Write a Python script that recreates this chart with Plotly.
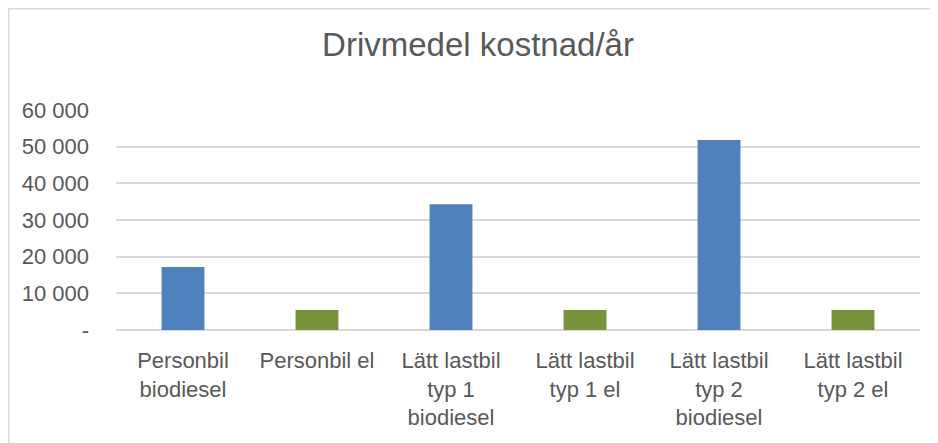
import plotly.graph_objects as go

categories = [
    "Personbil<br>biodiesel",
    "Personbil el",
    "Lätt lastbil<br>typ 1<br>biodiesel",
    "Lätt lastbil<br>typ 1 el",
    "Lätt lastbil<br>typ 2<br>biodiesel",
    "Lätt lastbil<br>typ 2 el",
]
values = [17200, 5450, 34300, 5450, 51800, 5450]
tick_vals = [0, 10000, 20000, 30000, 40000, 50000, 60000]
tick_text = ["-", "10 000", "20 000", "30 000", "40 000", "50 000", "60 000"]

BLUE = "#4F81BD"
GREEN = "#77933C"
bar_colors = [BLUE, GREEN, BLUE, GREEN, BLUE, GREEN]
TXT = "#595959"
GRID = "#D9D9D9"
FONT = "Liberation Sans, Arial, sans-serif"

fig = go.Figure(
    go.Bar(x=categories, y=values, marker=dict(color=bar_colors, line=dict(width=0)))
)

# page has an 8px body margin; figure occupies page x 8..938, y 8..443
W, H = 930, 435
ml, mr, mt, mb = 108, 18, 102, 113
pw = W - ml - mr
ph = H - mt - mb

fig.update_layout(
    width=W,
    height=H,
    margin=dict(l=ml, r=mr, t=mt, b=mb, pad=0),
    paper_bgcolor="white",
    plot_bgcolor="white",
    bargap=0.68,
    showlegend=False,
    font=dict(family=FONT, color=TXT, size=22),
    title=dict(
        text="Drivmedel kostnad/år",
        x=470 / W,
        xanchor="center",
        y=1 - 36 / H,
        yanchor="middle",
        yref="container",
        font=dict(size=33, color=TXT, family=FONT),
    ),
    xaxis=dict(
        showgrid=False,
        showline=False,
        zeroline=False,
        ticks="",
        tickfont=dict(size=22, color=TXT),
        ticklabelstandoff=15,
    ),
    yaxis=dict(
        range=[0, 60000],
        tickvals=tick_vals,
        ticktext=tick_text,
        showgrid=True,
        gridcolor=GRID,
        gridwidth=1.5,
        zeroline=True,
        zerolinecolor=GRID,
        zerolinewidth=1.5,
        showline=False,
        ticks="",
        tickfont=dict(size=22, color=TXT),
        ticklabelstandoff=26,
    ),
    shapes=[
        dict(
            type="rect",
            xref="paper",
            yref="paper",
            x0=(0.75 - ml) / pw,
            x1=(945 - ml) / pw,
            y0=(H - mb - 450) / ph,
            y1=(H - mb - 0.75) / ph,
            line=dict(color=GRID, width=1.5),
            fillcolor="rgba(0,0,0,0)",
            layer="below",
        )
    ],
)

fig.write_html("out.html")
